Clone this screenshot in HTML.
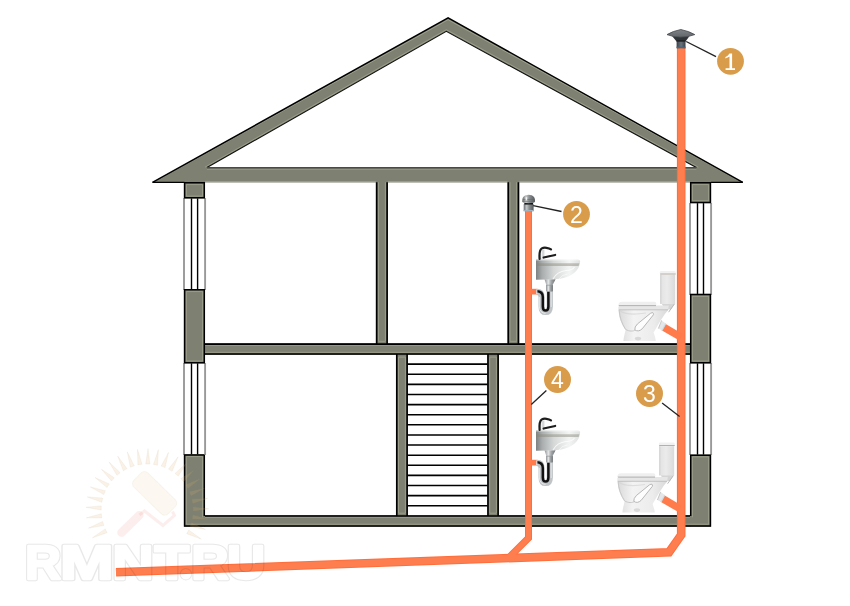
<!DOCTYPE html>
<html><head><meta charset="utf-8"><style>
html,body{margin:0;padding:0;background:#fff;width:850px;height:606px;overflow:hidden}
svg{position:absolute;left:0;top:0;display:block;will-change:transform}
.n{font-family:"Liberation Sans",sans-serif;font-size:23px;fill:#fff;text-anchor:middle}
</style></head><body>
<svg width="850" height="606" viewBox="0 0 850 606">
<defs>
<linearGradient id="pipeV" x1="0" x2="1" y1="0" y2="0">
<stop offset="0" stop-color="#ff6f3d"/><stop offset=".25" stop-color="#ff7d4e"/><stop offset=".75" stop-color="#ff7d4e"/><stop offset="1" stop-color="#ff6f3d"/>
</linearGradient>

<linearGradient id="neck" x1="0" x2="1"><stop offset="0" stop-color="#3a4046"/><stop offset=".5" stop-color="#6b737a"/><stop offset="1" stop-color="#3a4046"/></linearGradient>
<linearGradient id="capg" x1="0" x2="0" y1="0" y2="1"><stop offset="0" stop-color="#7f8387"/><stop offset="1" stop-color="#62676b"/></linearGradient>
<linearGradient id="chromeH" x1="0" x2="1"><stop offset="0" stop-color="#8e9294"/><stop offset=".35" stop-color="#e3e5e6"/><stop offset=".6" stop-color="#a4a8aa"/><stop offset="1" stop-color="#6f7375"/></linearGradient>
<linearGradient id="basin" x1="0" x2="1"><stop offset="0" stop-color="#7d8181"/><stop offset=".14" stop-color="#a9adad"/><stop offset=".4" stop-color="#d6d8d8"/><stop offset=".75" stop-color="#f3f4f4"/><stop offset="1" stop-color="#dfe1e1"/></linearGradient>
<linearGradient id="tankg" x1="0" x2="1"><stop offset="0" stop-color="#e2e2e2"/><stop offset=".45" stop-color="#ebebeb"/><stop offset="1" stop-color="#dadada"/></linearGradient>
<linearGradient id="bowlg" x1="0" x2="1"><stop offset="0" stop-color="#dadada"/><stop offset=".3" stop-color="#f3f3f3"/><stop offset=".7" stop-color="#ececec"/><stop offset="1" stop-color="#d8d8d8"/></linearGradient>
<linearGradient id="valveg" x1="0" x2="1"><stop offset="0" stop-color="#6a6e70"/><stop offset=".3" stop-color="#c4c6c7"/><stop offset=".55" stop-color="#8d9092"/><stop offset="1" stop-color="#56595b"/></linearGradient>
</defs>
<rect width="850" height="606" fill="#fff"/>
<path d="M184,198 V290 M205.1,198 V290" stroke="#999" stroke-width="1.9"/>
<path d="M191.5,198 V290 M197.6,198 V290" stroke="#000" stroke-width="1.4"/>
<path d="M184,363 V455 M205.1,363 V455" stroke="#999" stroke-width="1.9"/>
<path d="M191.5,363 V455 M197.6,363 V455" stroke="#000" stroke-width="1.4"/>
<path d="M690,203 V295 M711.1,203 V295" stroke="#999" stroke-width="1.9"/>
<path d="M697.5,203 V295 M703.5,203 V295" stroke="#000" stroke-width="1.4"/>
<path d="M690,363 V455 M711.1,363 V455" stroke="#999" stroke-width="1.9"/>
<path d="M697.5,363 V455 M703.5,363 V455" stroke="#000" stroke-width="1.4"/>
<path fill="#7e8171" fill-rule="evenodd" d="M152.5,182.4 L448.1,17.8 L742.8,182.4 Z M207.0,167.6 L696.3,167.6 L446.3,31.3 Z"/>
<path d="M157.5,180.20000000000002 L448.1,19.7 L737.8,180.20000000000002" fill="none" stroke="#a2a48f" stroke-width=".9"/>
<path d="M205.0,167.2 L446.3,29.7 L698.3,167.2" fill="none" stroke="#a2a48f" stroke-width=".8"/>
<path d="M207.0,169.2 H696.3" stroke="#a2a48f" stroke-width=".8"/>
<path d="M205,181.5 H690" stroke="#a2a48f" stroke-width=".8"/>
<path d="M152.5,182.4 L448.1,17.8 L742.8,182.4" fill="none" stroke="#000" stroke-width="1.5" stroke-linejoin="miter"/>
<path d="M207.0,167.6 L446.3,31.3 L696.3,167.6" fill="none" stroke="#111" stroke-width="1.1"/>
<path d="M152.5,182.4 H184.4 M710.9,182.4 H742.8" stroke="#000" stroke-width="1.3"/>
<path d="M207.0,167.79999999999998 H696.3" stroke="#4a4c42" stroke-width="1.6"/>
<rect x="204" y="343.2" width="487" height="11.699999999999989" fill="#7e8171"/>
<rect x="204" y="515.1" width="487" height="11.699999999999932" fill="#7e8171"/>
<rect x="375.8" y="180" width="12.199999999999989" height="164.2" fill="#7e8171"/>
<rect x="507.4" y="180" width="11.899999999999977" height="164.2" fill="#7e8171"/>
<rect x="395.9" y="353.9" width="12.100000000000023" height="162.20000000000005" fill="#7e8171"/>
<rect x="487.1" y="353.9" width="11.899999999999977" height="162.20000000000005" fill="#7e8171"/>
<rect x="183.9" y="182.2" width="21.099999999999994" height="16.30000000000001" fill="#7e8171"/>
<rect x="183.9" y="289.2" width="21.099999999999994" height="74.19999999999999" fill="#7e8171"/>
<rect x="183.9" y="454.2" width="21.099999999999994" height="72.59999999999997" fill="#7e8171"/>
<rect x="690.0" y="182.2" width="21.100000000000023" height="21.0" fill="#7e8171"/>
<rect x="690.0" y="293.9" width="21.100000000000023" height="69.5" fill="#7e8171"/>
<rect x="690.0" y="454.5" width="21.100000000000023" height="72.29999999999995" fill="#7e8171"/>
<path d="M378.40000000000003,182.2 V341.3 H385.4 V182.2 M510.0,182.2 V341.3 H516.6999999999999 V182.2 M398.5,357.09999999999997 V513.2 H405.4 V357.09999999999997 Z M489.70000000000005,357.09999999999997 V513.2 H496.4 V357.09999999999997 Z M205.0,345.3 H690.0 M205.0,352.29999999999995 H690.0 M205.0,517.3000000000001 H690.0 M186.3,524.1999999999999 H708.7 M186.3,184.6 H202.6 V196.1 H186.3 Z M186.3,291.59999999999997 H202.6 V361.0 H186.3 Z M692.4,184.6 H708.7 V200.79999999999998 H692.4 Z M692.4,296.29999999999995 H708.7 V361.0 H692.4 Z M186.3,524.1999999999999 V456.59999999999997 H202.6 V517.3000000000001 M708.7,524.1999999999999 V456.9 H692.4 V517.3000000000001" fill="none" stroke="#a2a48f" stroke-width=".8"/>
<path d="M376.7,182.2 V344.09999999999997 H387.1 V182.2 M508.29999999999995,182.2 V344.09999999999997 H518.4 V182.2 M396.79999999999995,354.0 V516.0 H407.1 V354.0 Z M488.0,354.0 V516.0 H498.1 V354.0 Z M205.0,344.09999999999997 H690.0 M205.0,354.0 H690.0 M205.0,516.0 H690.0" fill="none" stroke="#000" stroke-width="1.6" stroke-linejoin="round"/>
<path d="M184.6,182.79999999999998 H204.3 V197.8 H184.6 Z M184.6,289.8 H204.3 V362.7 H184.6 Z M690.7,182.79999999999998 H710.4 V202.5 H690.7 Z M690.7,294.5 H710.4 V362.7 H690.7 Z M204.3,454.9 H184.6 V525.9 H710.4 V455.2 H690.7 V516.0 M204.3,454.9 V516.0" fill="none" stroke="#000" stroke-width="1.5" stroke-linejoin="miter"/>
<path d="M407.5,364.10 H487.6 M407.5,374.22 H487.6 M407.5,384.34 H487.6 M407.5,394.46 H487.6 M407.5,404.58 H487.6 M407.5,414.70 H487.6 M407.5,424.82 H487.6 M407.5,434.94 H487.6 M407.5,445.06 H487.6 M407.5,455.18 H487.6 M407.5,465.30 H487.6 M407.5,475.42 H487.6 M407.5,485.54 H487.6 M407.5,495.66 H487.6 M407.5,505.78 H487.6" stroke="#000" stroke-width="1.6"/>
<!-- pipes -->
<g id="pipes" fill="none" stroke-linejoin="miter">
<polyline points="681.2,48 681.2,535 669,552.3 116,572.3" stroke="#ff6e3c" stroke-width="8.6"/>
<polyline points="528.5,211 528.5,538 508.4,558.1" stroke="#ff6e3c" stroke-width="7"/>
<polyline points="681.2,47 681.2,535 669,552.3 116,572.3" stroke="#ff7e50" stroke-width="6.6"/>
<polyline points="528.5,210 528.5,538 508.4,558.1" stroke="#ff7e50" stroke-width="5.2"/>
</g>


<!-- fixtures -->
<g id="fixtures">
<!-- vent cap -->
<g id="vent">
<rect x="676.6" y="41" width="8.9" height="7.4" fill="url(#neck)"/>
<rect x="676.6" y="46.6" width="8.9" height="1.4" fill="#3d6a8c"/>
<path d="M672.2,36.2 L689.4,36.2 L685.5,41.6 L676.6,41.6 Z" fill="#2f3439"/>
<path d="M676.8,40.2 H685.2 L685.5,41.6 H676.6 Z" fill="#1c1f22"/>
<path d="M667,34.6 Q673,31 680.8,29.5 Q688.5,31 694.8,34.6 Q688,37.2 680.8,37.2 Q673.5,37.2 667,34.6 Z" fill="url(#capg)" stroke="#43474b" stroke-width=".8"/>
</g>
<!-- air valve -->
<g id="valve">
<rect x="523.7" y="204.2" width="9.9" height="7" fill="url(#valveg)"/>
<rect x="523.7" y="210" width="9.9" height="1.2" fill="#9fb3c0"/>
<rect x="524.3" y="202.6" width="8.8" height="2" fill="#151515"/>
<path d="M522.2,201.5 Q522,196.5 525.5,195.2 Q528.6,194.4 531.7,195.2 Q535.3,196.5 535,201.5 Q534.8,203.2 528.6,203.2 Q522.4,203.2 522.2,201.5 Z" fill="url(#valveg)"/><path d="M523,199.4 H534.2 M522.6,201.2 H534.6" stroke="#5f6264" stroke-width=".6"/>
<rect x="525.6" y="197.2" width="1.6" height="3.2" fill="#fff" opacity=".85"/>
</g>
<g id="sink">
<rect x="531" y="288.8" width="6.4" height="5.7" fill="#ff7b4c"/>
<path d="M536.8,291.8 Q541.6,291.8 541.6,297 V306.4 Q541.6,312 545.6,312 Q549.8,312 549.8,306.4 V285" fill="none" stroke="#c0c4c6" stroke-width="6.2"/>
<path d="M536.8,291.2 Q542.8,291.2 542.8,297 V306.6 Q542.8,310.6 545.6,310.6 Q548.4,310.6 548.4,306.6 V291.6" fill="none" stroke="#111" stroke-width="2.5"/>
<path d="M539.4,297 V307 Q539.8,313 545.6,313.4" fill="none" stroke="#eef1f2" stroke-width=".8"/>
<path d="M551.2,292 V307" stroke="#eef1f2" stroke-width=".8"/>
<rect x="536.2" y="289.4" width="1.2" height="4.6" fill="#d6e6ef"/>
<rect x="546" y="285" width="6.9" height="6.4" fill="url(#chromeH)"/>
<path d="M544.5,279.3 L555.6,279.3 L552.5,285.2 L546.4,285.2 Z" fill="url(#chromeH)"/>
<path d="M546.4,285.2 H552.5" stroke="#8f9395" stroke-width=".7"/>
<path d="M536,259.6 H577.6 Q580.8,259.8 580,263 C579,269.5 573.5,276.6 560,278.8 Q553,279.6 548,279.6 L536,279.7 Z" fill="url(#basin)"/>
<path d="M536,263.2 H579.4 L578.6,266 H536 Z" fill="#858676" opacity=".45"/>
<path d="M536,260 H579" stroke="#fff" stroke-width=".8" opacity=".7"/>
<path d="M553,279 Q557,271.5 566,270.5 Q572,270.5 574.5,267" fill="none" stroke="#fff" stroke-width="1.1" opacity=".75"/>
<path d="M559,279 Q562,274.5 567.5,274" fill="none" stroke="#fff" stroke-width=".9" opacity=".6"/>
<rect x="539.8" y="249.6" width="4.6" height="9.4" fill="#d5d7d8"/>
<path d="M541.6,250 V258.6" stroke="#f7f7f7" stroke-width="1"/>
<path d="M539.6,259 C539.2,254 539.4,250 541.8,248.4 Q543.6,247.4 546.4,247.8 Q549.4,248.2 551,249.4" fill="none" stroke="#1d1d1d" stroke-width="2.2" stroke-linecap="round"/>
<path d="M543.6,257.6 L555.2,254.9" stroke="#1d1d1d" stroke-width="2.1" stroke-linecap="round"/>
</g>
<use href="#sink" transform="translate(0,171)"/>
<g id="toilet">
<path d="M663.4,327 L681.2,337.4" stroke="#ff7b4c" stroke-width="7.4"/>
<path d="M658.4,328.5 L661.6,320.4 L665.8,323.6 L662,330.6 Z" fill="#e4e6e7"/>
<path d="M665.8,323.6 L662,330.6" stroke="#bfe0ee" stroke-width="1.1"/>
<path d="M661.6,320.4 L658.4,328.5" stroke="#b5b5b5" stroke-width=".7"/>
<path d="M661.6,303.6 H674.8 L671,309.6 H665 Z" fill="#d5d5d5"/>
<path d="M674.4,304 L668.6,312.2" stroke="#b9b9b9" stroke-width="1"/>
<rect x="660.3" y="274.4" width="14.9" height="29.6" fill="url(#tankg)"/>
<path d="M660.8,274.6 V303.8" stroke="#c9c9c9" stroke-width=".8"/>
<rect x="659.9" y="271.1" width="15.8" height="3.6" rx="1.2" fill="#f1f1f1"/>
<path d="M660.2,274 H675.7" stroke="#b5b0a8" stroke-width="1"/>
<path d="M618.6,309.4 C618.8,317 621,323.5 625.6,330 C624.6,334 623.6,338 623.4,341 H655.8 C655.4,337.5 654.4,335 653.6,332.4 L660.6,320.6 C663.4,316 666,312 668.8,309.4 Z" fill="url(#bowlg)"/>
<path d="M619.2,310.2 C619.6,317 621.8,323.4 625.6,329.4 C629.5,331.6 633,331.4 635.6,330" fill="none" stroke="#c8c8c8" stroke-width="1"/><path d="M620,311 Q628,316 646,313" fill="none" stroke="#d4d4d4" stroke-width="1.2" opacity=".7"/>
<path d="M634.8,329.8 Q634.4,327 637.4,324 L650.4,313.4 Q654,311.4 653.4,314.8 L642.2,328.8 Q638.4,332.4 634.8,329.8 Z" fill="#fdfdfd" stroke="#b0b0b0" stroke-width=".9"/>
<ellipse cx="638" cy="338.6" rx="3.2" ry="1.8" fill="#d9d9d9"/>
<path d="M618.4,309.6 V307 Q618.6,305.4 621.5,305.4 H668.8 L668.2,309.6 Z" fill="#e6e6e6"/>
<path d="M618.8,309.8 H668" stroke="#bdbdbd" stroke-width=".9"/>
<path d="M618.4,305.6 Q618.2,301.8 622,301.8 H654.6 Q656.8,302 656.2,305.6 Z" fill="#efefef"/>
<path d="M618.8,305.6 H656" stroke="#a9a9a9" stroke-width=".9"/>
</g>
<use href="#toilet" transform="translate(-1,171.5)"/>
</g>

<!-- callouts -->
<g id="callouts">
<g stroke="#222" stroke-width="1.3">
<line x1="686.2" y1="41.5" x2="716" y2="56.7"/>
<line x1="533.2" y1="205.6" x2="561.5" y2="211.5"/>
<line x1="531.3" y1="404.6" x2="546.4" y2="390.5"/>
<line x1="662.1" y1="403.1" x2="679.6" y2="416.6"/>
</g>
<g fill="#d99c4b">
<circle cx="730.5" cy="61.3" r="13.4"/>
<circle cx="576.5" cy="214.3" r="13.4"/>
<circle cx="557.5" cy="379.5" r="13.5"/>
<circle cx="649.5" cy="393.5" r="13.5"/>
</g>
<path d="M729.5,53.4 H732.1 V68.3 H735 V70 H725.6 V68.3 H729.5 V56.6 Q727.8,57.8 725.4,58.5 V57 Q728,55.8 729.5,53.4 Z" fill="#fff"/>
<text class="n" x="576.5" y="222.8">2</text>
<text class="n" x="557.5" y="388">4</text>
<text class="n" x="649.5" y="402">3</text>
</g>

<!-- watermark -->
<g id="wm">
<path d="M201.3,539.1 L186.7,533.7 L188.7,530.0 Z M205.4,529.5 L190.2,526.6 L191.5,522.6 Z M207.9,519.3 L192.4,519.0 L193.0,514.9 Z M208.6,508.8 L193.2,511.2 L193.2,507.0 Z M207.5,498.4 L192.8,503.4 L192.0,499.2 Z M204.6,488.3 L191.0,495.7 L189.5,491.8 Z M200.1,478.8 L187.9,488.5 L185.8,484.8 Z M194.0,470.3 L183.6,481.8 L180.9,478.6 Z M186.6,462.9 L178.3,476.1 L175.1,473.4 Z M178.0,456.9 L172.1,471.3 L168.5,469.1 Z M168.5,452.4 L165.1,467.6 L161.2,466.1 Z M158.4,449.6 L157.6,465.2 L153.5,464.4 Z M148.0,448.6 L149.9,464.0 L145.7,464.0 Z M137.5,449.4 L142.0,464.2 L137.9,464.9 Z M127.3,451.9 L134.3,465.8 L130.3,467.2 Z M117.7,456.1 L127.0,468.6 L123.3,470.7 Z M109.0,461.9 L120.2,472.7 L116.9,475.3 Z M101.4,469.2 L114.3,477.8 L111.5,481.0 Z M95.1,477.6 L109.3,483.9 L107.0,487.5 Z M90.3,486.9 L105.4,490.7 L103.8,494.6 Z M87.2,496.9 L102.7,498.1 L101.8,502.3 Z M85.9,507.3 L101.3,505.9 L101.2,510.1 Z M86.3,517.8 L101.3,513.8 L101.8,517.9 Z M88.5,528.1 L102.6,521.5 L103.9,525.5 Z M92.4,537.8 L105.2,528.9 L107.1,532.7 Z" fill="#e0b070" fill-opacity=".17" stroke="#a08a60" stroke-opacity=".08" stroke-width="1" stroke-linejoin="round"/>
<g transform="translate(154.6,493.4) rotate(44.4)"><rect x="-24" y="-10" width="48" height="20" rx="4.8" fill="#e0b070" fill-opacity=".1" stroke="#b09a70" stroke-opacity=".07" stroke-width="1"/></g>
<path d="M172.5,511.5 L174.5,515.5 L163,525.5 L144.5,511 L139.5,515" fill="none" stroke="#e88a80" stroke-opacity=".15" stroke-width="3"/>
<path d="M121.5,532.6 L139.3,515.2" stroke="#e88a80" stroke-opacity=".15" stroke-width="8.5" stroke-linecap="round"/>
<mask id="wmtext" maskUnits="userSpaceOnUse" x="0" y="500" width="300" height="106">
<g style="font-family:'Liberation Sans',sans-serif;font-weight:bold;font-size:48px">
<text transform="translate(24.98,578.8) scale(1.040,1)" x="0" y="0" fill="#fff" stroke="#fff" stroke-width="4.4" stroke-linejoin="round">R</text>
<text transform="translate(60.08,578.8) scale(1.341,1)" x="0" y="0" fill="#fff" stroke="#fff" stroke-width="4.4" stroke-linejoin="round">M</text>
<text transform="translate(112.22,578.8) scale(1.193,1)" x="0" y="0" fill="#fff" stroke="#fff" stroke-width="4.4" stroke-linejoin="round">N</text>
<text transform="translate(154.42,578.8) scale(1.179,1)" x="0" y="0" fill="#fff" stroke="#fff" stroke-width="4.4" stroke-linejoin="round">T</text>
<text transform="translate(191.26,578.8) scale(1.080,1)" x="0" y="0" fill="#fff" stroke="#fff" stroke-width="4.4" stroke-linejoin="round">R</text>
<text transform="translate(227.00,578.8) scale(1.100,1)" x="0" y="0" fill="#fff" stroke="#fff" stroke-width="4.4" stroke-linejoin="round">U</text>
<circle cx="185.9" cy="574.2" r="6.20" fill="#fff"/>
<text transform="translate(24.98,578.8) scale(1.040,1)" x="0" y="0" fill="#000" stroke="#000" stroke-width="2.4" stroke-linejoin="round">R</text>
<text transform="translate(60.08,578.8) scale(1.341,1)" x="0" y="0" fill="#000" stroke="#000" stroke-width="2.4" stroke-linejoin="round">M</text>
<text transform="translate(112.22,578.8) scale(1.193,1)" x="0" y="0" fill="#000" stroke="#000" stroke-width="2.4" stroke-linejoin="round">N</text>
<text transform="translate(154.42,578.8) scale(1.179,1)" x="0" y="0" fill="#000" stroke="#000" stroke-width="2.4" stroke-linejoin="round">T</text>
<text transform="translate(191.26,578.8) scale(1.080,1)" x="0" y="0" fill="#000" stroke="#000" stroke-width="2.4" stroke-linejoin="round">R</text>
<text transform="translate(227.00,578.8) scale(1.100,1)" x="0" y="0" fill="#000" stroke="#000" stroke-width="2.4" stroke-linejoin="round">U</text>
<circle cx="185.9" cy="574.2" r="5.20" fill="#000"/>
</g>
</mask>
<rect x="0" y="500" width="300" height="106" fill="#000" fill-opacity=".09" mask="url(#wmtext)"/>
</g>

</svg>
</body></html>
